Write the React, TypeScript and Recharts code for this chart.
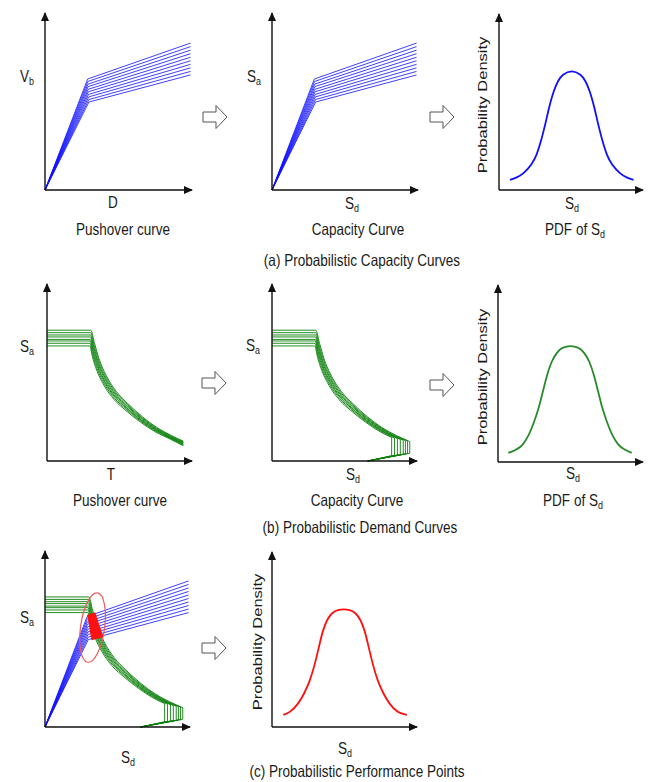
import React from 'react';
import { LineChart, Line, XAxis, YAxis, ReferenceLine, ReferenceDot } from 'recharts';

type Pt = [number, number];

// capacity curves (blue), percent of axis length: origin -> yield -> end
const capacityCurves: Pt[][] = [
  [[0, 0], [29.0, 62.7], [99, 83.0]],
  [[0, 0], [29.1, 61.3], [99, 81.0]],
  [[0, 0], [29.2, 59.8], [99, 79.0]],
  [[0, 0], [29.3, 58.4], [99, 77.0]],
  [[0, 0], [29.4, 56.9], [99, 75.0]],
  [[0, 0], [29.5, 55.5], [99, 73.0]],
  [[0, 0], [29.6, 54.0], [99, 71.0]],
  [[0, 0], [29.7, 52.6], [99, 69.0]],
  [[0, 0], [29.8, 51.1], [99, 67.0]],
  [[0, 0], [29.9, 49.7], [99, 65.0]],
];

// demand spectra in Sa-T
const demandT: Pt[][] = [
  [[0, 73.9], [30.2, 73.9], [32.8, 66.5], [35.8, 58.0], [40.8, 48.4], [47.8, 39.3], [55.8, 32.4], [65.8, 25.0], [75.8, 18.9], [85.8, 14.4], [94, 11.2]],
  [[0, 72.5], [30.1, 72.5], [32.6, 65.2], [35.6, 56.9], [40.6, 47.5], [47.6, 38.6], [55.6, 31.8], [65.6, 24.5], [75.6, 18.6], [85.6, 14.1], [94, 10.8]],
  [[0, 71.2], [30.0, 71.2], [32.4, 64.0], [35.4, 55.8], [40.4, 46.6], [47.4, 37.9], [55.4, 31.2], [65.4, 24.1], [75.4, 18.2], [85.4, 13.8], [94, 10.4]],
  [[0, 70.1], [29.9, 70.1], [32.2, 63.0], [35.2, 55.0], [40.2, 45.9], [47.2, 37.3], [55.2, 30.8], [65.2, 23.7], [75.2, 18.0], [85.2, 13.6], [94, 10.1]],
  [[0, 68.7], [29.8, 68.7], [32.0, 61.8], [35.0, 53.9], [40.0, 45.0], [47.0, 36.6], [55.0, 30.1], [65.0, 23.2], [75.0, 17.6], [85.0, 13.3], [94, 9.8]],
  [[0, 67.8], [29.7, 67.8], [31.8, 61.0], [34.8, 53.2], [39.8, 44.4], [46.8, 36.1], [54.8, 29.8], [64.8, 22.9], [74.8, 17.4], [84.8, 13.2], [94, 9.4]],
  [[0, 66.5], [29.6, 66.5], [31.6, 59.8], [34.6, 52.1], [39.6, 43.5], [46.6, 35.4], [54.6, 29.2], [64.6, 22.5], [74.6, 17.0], [84.6, 12.9], [94, 9.0]],
  [[0, 65.0], [29.5, 65.0], [31.4, 58.5], [34.4, 51.0], [39.4, 42.6], [46.4, 34.6], [54.4, 28.5], [64.4, 22.0], [74.4, 16.6], [84.4, 12.6], [94, 8.6]],
];

// demand spectra in Sa-Sd
const demandSd: Pt[][] = [
  [[0, 73.9], [30.2, 73.9], [32.8, 66.5], [35.8, 58.0], [40.8, 48.4], [47.8, 39.3], [55.8, 32.4], [65.8, 25.0], [75.8, 18.9], [85.8, 14.4], [95, 11.0]],
  [[0, 72.5], [30.1, 72.5], [32.6, 65.2], [35.6, 56.9], [40.6, 47.5], [47.6, 38.6], [55.6, 31.8], [65.6, 24.5], [75.6, 18.6], [85.6, 14.1], [93.5, 11.4]],
  [[0, 71.2], [30.0, 71.2], [32.4, 64.0], [35.4, 55.8], [40.4, 46.6], [47.4, 37.9], [55.4, 31.2], [65.4, 24.1], [75.4, 18.2], [85.4, 13.8], [92, 11.6]],
  [[0, 70.1], [29.9, 70.1], [32.2, 63.0], [35.2, 55.0], [40.2, 45.9], [47.2, 37.3], [55.2, 30.8], [65.2, 23.7], [75.2, 18.0], [85.2, 13.6], [90.5, 11.8]],
  [[0, 68.7], [29.8, 68.7], [32.0, 61.8], [35.0, 53.9], [40.0, 45.0], [47.0, 36.6], [55.0, 30.1], [65.0, 23.2], [75.0, 17.6], [88.5, 12.2]],
  [[0, 67.8], [29.7, 67.8], [31.8, 61.0], [34.8, 53.2], [39.8, 44.4], [46.8, 36.1], [54.8, 29.8], [64.8, 22.9], [74.8, 17.4], [86.5, 12.7]],
  [[0, 66.5], [29.6, 66.5], [31.6, 59.8], [34.6, 52.1], [39.6, 43.5], [46.6, 35.4], [54.6, 29.2], [64.6, 22.5], [74.6, 17.0], [84.5, 12.9]],
  [[0, 65.0], [29.5, 65.0], [31.4, 58.5], [34.4, 51.0], [39.4, 42.6], [46.4, 34.6], [54.4, 28.5], [64.4, 22.0], [74.4, 16.6], [82.5, 13.3]],
];
// end of each Sd spectrum: drop to this level, then back to the foot on the axis
const sdTailBottom = [4.4, 4.2, 4.0, 3.8, 3.6, 3.4, 3.2, 3.0];
const sdTailFoot: Pt = [66, 0];

// performance points (red): overlap of capacity lines with the demand band
const perfSegments: Pt[][] = [
  [[29.3, 62.8], [35.0, 64.45]],
  [[29.6, 61.45], [35.5, 63.15]],
  [[29.9, 60.0], [36.0, 61.75]],
  [[30.2, 58.65], [36.5, 60.4]],
  [[30.5, 57.2], [37.0, 59.0]],
  [[30.8, 55.85], [37.6, 57.6]],
  [[31.0, 54.35], [38.2, 56.2]],
  [[31.3, 53.0], [38.8, 54.8]],
  [[31.6, 51.5], [39.4, 53.35]],
  [[31.8, 50.1], [40.0, 51.95]],
];
const perfCenter: Pt = [32.8, 56.5];

const pdfCapacity: Pt[] = [[7.6, 5.7], [12, 7.0], [17, 9.6], [22, 14.0], [26, 20.0], [29, 27.5], [32, 37.0], [35, 47.5], [38, 56.0], [41, 61.8], [44.5, 65.5], [50.5, 67.4], [56.5, 65.5], [60, 61.8], [63, 56.0], [66, 47.5], [69, 37.0], [72, 27.5], [75, 20.0], [79, 14.0], [84, 9.6], [89, 7.0], [93.4, 5.7]];
const pdfDemand: Pt[] = [[7.1, 5.2], [12, 6.8], [17, 9.8], [21, 15], [25, 23], [28, 30.5], [31, 40], [34, 49.5], [37, 56.5], [40.5, 61.5], [44.5, 64.5], [50, 65.5], [55.5, 64.5], [59.5, 61.5], [63, 56.5], [66, 49.5], [69, 40], [72, 30.5], [75, 23], [79, 15], [83, 9.8], [88, 6.8], [92.2, 5.2]];
const pdfPerf: Pt[] = [[7.8, 6.9], [12.5, 8.8], [18, 13.5], [22, 19], [26, 26.5], [29, 34.5], [32, 44.5], [35, 54.5], [38, 61], [41.5, 65], [45, 66.7], [49.5, 67.2], [54, 66.7], [57.5, 65], [61, 61], [64, 54.5], [67, 44.5], [70, 34.5], [73, 26.5], [77, 19], [81, 13.5], [86.5, 8.8], [93, 6.9]];

const BLUE = '#0f0fff';
const GREEN = '#0a800a';
const RED = '#ff1010';
const AXIS = '#111';
const PAD = 8;
const FONT = '"Liberation Sans", Arial, sans-serif';

const rows = (pts: Pt[]) => pts.map(([x, y]) => ({ x, y }));

const arrowRight = (p: any) => (
  <polygon points={`${p.cx + 1},${p.cy} ${p.cx - 8},${p.cy - 4} ${p.cx - 8},${p.cy + 4}`} fill={AXIS} />
);
const arrowUp = (p: any) => (
  <polygon points={`${p.cx},${p.cy - 1} ${p.cx - 4},${p.cy + 8} ${p.cx + 4},${p.cy + 8}`} fill={AXIS} />
);
const ellipse = (p: any) => (
  <ellipse cx={p.cx} cy={p.cy} rx={12} ry={35} fill="none" stroke="#f05a5a" strokeWidth={1.2}
    transform={`rotate(8 ${p.cx} ${p.cy})`} />
);

const line = (key: string, pts: Pt[], color: string, width: number, type: 'linear' | 'monotone') => (
  <Line key={key} data={rows(pts)} dataKey="y" type={type} stroke={color} strokeWidth={width}
    dot={false} activeDot={false} isAnimationActive={false} />
);

const Panel = ({ ox, oy, xt, yt, children }: { ox: number; oy: number; xt: number; yt: number; children: React.ReactNode }) => (
  <div style={{ position: 'absolute', left: ox - PAD, top: yt - PAD }}>
    <LineChart width={xt - ox + 2 * PAD} height={oy - yt + 2 * PAD}
      margin={{ top: PAD, right: PAD, bottom: PAD, left: PAD }}>
      <XAxis type="number" dataKey="x" domain={[0, 100]} hide />
      <YAxis type="number" domain={[0, 100]} hide />
      {children}
      <ReferenceLine segment={[{ x: 0, y: 0 }, { x: 100, y: 0 }]} stroke={AXIS} strokeWidth={1.4} ifOverflow="visible" />
      <ReferenceLine segment={[{ x: 0, y: 0 }, { x: 0, y: 100 }]} stroke={AXIS} strokeWidth={1.4} ifOverflow="visible" />
      <ReferenceDot x={100} y={0} r={0} shape={arrowRight} ifOverflow="visible" />
      <ReferenceDot x={0} y={100} r={0} shape={arrowUp} ifOverflow="visible" />
    </LineChart>
  </div>
);

const Sub = ({ c }: { c: string }) => (
  <span style={{ fontSize: '0.66em', position: 'relative', top: '0.3em' }}>{c}</span>
);

const Txt = ({ x, y, rot, children }: { x: number; y: number; rot?: boolean; children: React.ReactNode }) => (
  <div style={{
    position: 'absolute', left: x, top: y, whiteSpace: 'nowrap', fontSize: 16.5, lineHeight: 1,
    color: '#1a1a1a',
    transform: `translate(-50%, -50%) scaleX(0.82)${rot ? ' rotate(-90deg)' : ''}`,
  }}>{children}</div>
);

const BlockArrow = ({ x, y }: { x: number; y: number }) => (
  <svg style={{ position: 'absolute', left: x - 1, top: y - 13 }} width={28} height={26}>
    <polygon points="1,8 14,8 14,1.5 25,13 14,24.5 14,18 1,18" fill="#fff" stroke="#555" strokeWidth={1} />
  </svg>
);

const blueLines = (tag: string) => capacityCurves.map((c, i) => line(`${tag}b${i}`, c, BLUE, 0.8, 'linear'));
const sdLines = (tag: string) => demandSd.flatMap((c, i) => {
  const end = c[c.length - 1];
  const tail: Pt[] = [end, [end[0], sdTailBottom[i]], sdTailFoot];
  return [line(`${tag}g${i}`, c, GREEN, 0.9, 'monotone'), line(`${tag}t${i}`, tail, GREEN, 0.9, 'linear')];
});

export default function App() {
  return (
    <div style={{ position: 'absolute', left: 0, top: 0, width: 649, height: 782, background: '#fff', fontFamily: FONT, overflow: 'hidden' }}>
      {/* (a) */}
      <Panel ox={45} oy={190} xt={192} yt={13}>{blueLines('a1')}</Panel>
      <Panel ox={272} oy={190} xt={418} yt={13}>{blueLines('a2')}</Panel>
      <Panel ox={499} oy={190} xt={643} yt={14}>{line('pa', pdfCapacity, BLUE, 1.8, 'monotone')}</Panel>

      {/* (b) */}
      <Panel ox={47} oy={461} xt={192} yt={284}>
        {demandT.map((c, i) => line(`bt${i}`, c, GREEN, 0.9, 'monotone'))}
      </Panel>
      <Panel ox={272} oy={461} xt={417} yt={284}>{sdLines('b2')}</Panel>
      <Panel ox={498} oy={462} xt={643} yt={285}>{line('pb', pdfDemand, '#2a8a2a', 1.8, 'monotone')}</Panel>

      {/* (c) */}
      <Panel ox={45} oy={727} xt={190} yt={551}>
        {sdLines('c1')}
        {blueLines('c1')}
        {perfSegments.map((s, i) => line(`r${i}`, s, RED, 3, 'linear'))}
        <ReferenceDot x={perfCenter[0]} y={perfCenter[1]} r={0} shape={ellipse} ifOverflow="visible" />
      </Panel>
      <Panel ox={272} oy={727} xt={417} yt={552}>{line('pc', pdfPerf, RED, 1.8, 'monotone')}</Panel>

      <BlockArrow x={203} y={117} />
      <BlockArrow x={430} y={117} />
      <BlockArrow x={202} y={383} />
      <BlockArrow x={430} y={385} />
      <BlockArrow x={202} y={648} />

      <Txt x={27} y={76}>V<Sub c="b" /></Txt>
      <Txt x={113} y={202}>D</Txt>
      <Txt x={123} y={229}>Pushover curve</Txt>
      <Txt x={254} y={76}>S<Sub c="a" /></Txt>
      <Txt x={352} y={203}>S<Sub c="d" /></Txt>
      <Txt x={358} y={229}>Capacity Curve</Txt>
      <Txt x={572} y={203}>S<Sub c="d" /></Txt>
      <Txt x={575} y={229}>PDF of S<Sub c="d" /></Txt>
      <Txt x={482} y={105} rot>Probability Density</Txt>
      <Txt x={362} y={260}>(a) Probabilistic Capacity Curves</Txt>

      <Txt x={27} y={346}>S<Sub c="a" /></Txt>
      <Txt x={111} y={474}>T</Txt>
      <Txt x={120} y={500}>Pushover curve</Txt>
      <Txt x={253} y={345}>S<Sub c="a" /></Txt>
      <Txt x={353} y={474}>S<Sub c="d" /></Txt>
      <Txt x={357} y={500}>Capacity Curve</Txt>
      <Txt x={573} y={473}>S<Sub c="d" /></Txt>
      <Txt x={573} y={500}>PDF of S<Sub c="d" /></Txt>
      <Txt x={482} y={377} rot>Probability Density</Txt>
      <Txt x={360} y={527}>(b) Probabilistic Demand Curves</Txt>

      <Txt x={27} y={617}>S<Sub c="a" /></Txt>
      <Txt x={128} y={757}>S<Sub c="d" /></Txt>
      <Txt x={345} y={748}>S<Sub c="d" /></Txt>
      <Txt x={257} y={642} rot>Probability Density</Txt>
      <Txt x={357} y={771}>(c) Probabilistic Performance Points</Txt>
    </div>
  );
}
